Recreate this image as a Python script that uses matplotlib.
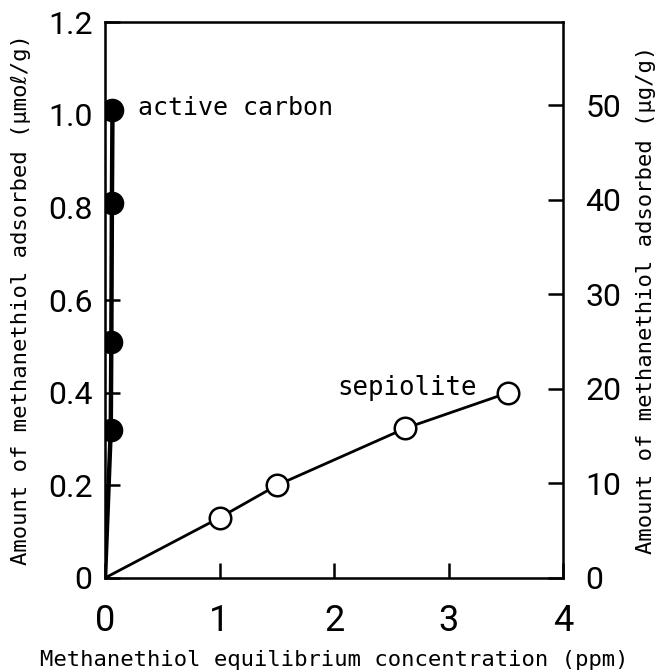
"""Methanethiol adsorption isotherms: active carbon vs sepiolite."""
import numpy as np
import matplotlib
matplotlib.use("Agg")
import matplotlib.pyplot as plt
from matplotlib.ticker import FuncFormatter

# data
carbon_x = [0.0, 0.05, 0.055, 0.06, 0.065]
carbon_y = [0.0, 0.32, 0.51, 0.81, 1.01]
sepiolite_x = [1.0, 1.5, 2.62, 3.52]
sepiolite_y = [0.13, 0.20, 0.323, 0.40]
xticks = [0, 1, 2, 3, 4]
yticks_left = [0, 0.2, 0.4, 0.6, 0.8, 1.0, 1.2]
yticks_right = [0, 10, 20, 30, 40, 50]
UG_PER_UMOL = 49.0

mono = ["DejaVu Sans Mono", "DejaVu Sans"]
num_font = "Roboto"

fig = plt.figure(figsize=(6.69, 6.72), dpi=100)
ax = fig.add_axes([0.157, 0.140, 0.685, 0.827])

ax.plot(carbon_x, carbon_y, color="black", lw=3.2, zorder=2)
ax.plot(carbon_x[1:], carbon_y[1:], "o", ms=16, color="black", zorder=3)
ax.plot([0] + sepiolite_x, [0] + sepiolite_y, color="black", lw=2.0, zorder=2)
ax.plot(sepiolite_x, sepiolite_y, "o", ms=15.5, mfc="white", mec="black",
        mew=1.8, zorder=3)

ax.text(0.29, 1.015, "active carbon", family=mono, fontsize=18, va="center")
ax.text(2.03, 0.41, "sepiolite", family=mono, fontsize=18.5, va="center")

ax.set_xlim(0, 4)
ax.set_ylim(0, 1.2)
ax.set_xticks(xticks)
ax.set_yticks(yticks_left)
ax.yaxis.set_major_formatter(FuncFormatter(lambda v, _: "0" if v == 0 else f"{v:.1f}"))
ax.xaxis.set_major_formatter(FuncFormatter(lambda v, _: f"{v:g}"))

for s in ax.spines.values():
    s.set_linewidth(1.8)
ax.tick_params(axis="both", direction="in", length=11, width=1.8)
ax.tick_params(axis="x", labelsize=26, pad=18)
ax.tick_params(axis="y", labelsize=23, pad=9)
for lab in ax.get_xticklabels() + ax.get_yticklabels():
    lab.set_family(num_font)

ax2 = ax.twinx()
ax2.set_ylim(0, 1.2 * UG_PER_UMOL)
ax2.set_yticks(yticks_right)
ax2.tick_params(axis="y", direction="in", length=11, width=1.8, labelsize=23, pad=16)
for lab in ax2.get_yticklabels():
    lab.set_family(num_font)

ax.set_xlabel("Methanethiol equilibrium concentration (ppm)", family=mono,
              fontsize=16, labelpad=8)
ax.set_ylabel("Amount of methanethiol adsorbed (\u03bcmo\u2113/g)", family=mono,
              fontsize=16, labelpad=12)
ax2.set_ylabel("Amount of methanethiol adsorbed (\u03bcg/g)", family=mono,
               fontsize=16, labelpad=10)

fig.savefig("out.png", dpi=100)
